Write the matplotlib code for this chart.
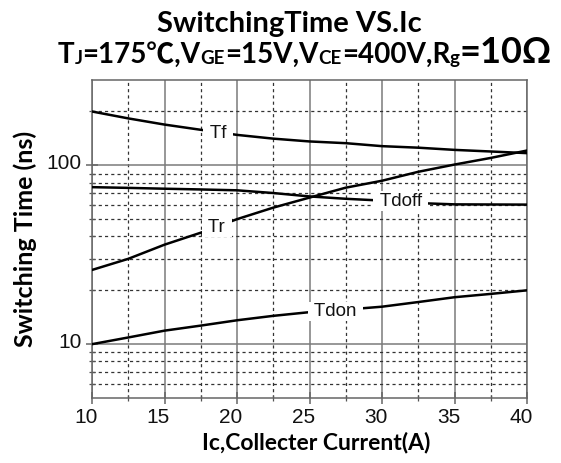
import matplotlib
matplotlib.use("Agg")
import matplotlib.pyplot as plt
from matplotlib.ticker import FixedLocator, NullFormatter
from matplotlib.text import Annotation
from matplotlib.transforms import ScaledTranslation

# ---- data ----
ic = [10, 12.5, 15, 17.5, 20, 22.5, 25, 27.5, 30, 32.5, 35, 37.5, 40]
tf = [200, 183, 169, 158, 148, 141, 136, 133, 128, 125.5, 122, 119.5, 117]
tr = [26, 30, 36, 42, 50, 58, 66, 75, 82, 92, 101, 110, 121]
tdoff = [75.5, 74.8, 74, 73.3, 72.5, 70, 67, 65, 63.5, 61.5, 60.5, 60.4, 60.3]
tdon = [10, 10.9, 11.9, 12.7, 13.6, 14.4, 15.1, 15.6, 16.2, 17.2, 18.3, 19.1, 20]

labels = ["Tf", "Tr", "Tdoff", "Tdon"]
label_pos = [(18.7, 151), (18.6, 45), (31.3, 63), (26.8, 15.2)]

xticks = [10, 15, 20, 25, 30, 35, 40]
xminor = [12.5, 17.5, 22.5, 27.5, 32.5, 37.5]
yticks = [10, 100]
yminor = [6, 7, 8, 9, 20, 30, 40, 50, 60, 70, 80, 90, 200]

TFONT = ["Lato", "Noto Sans CJK SC", "DejaVu Sans"]
AFONT = ["Liberation Sans", "DejaVu Sans"]

fig = plt.figure(figsize=(5.61, 4.63), dpi=100)
ax = fig.add_axes([92/561, 1-398/463, (527-92)/561, (398-80)/463])

for y in (tf, tr, tdoff, tdon):
    ax.plot(ic, y, color="black", lw=1.8, zorder=3)

for t, (x, y) in zip(labels, label_pos):
    ax.text(x, y, " " + t + " ", ha="center", va="center", fontsize=13.5,
            family=AFONT, color="#111111", zorder=4,
            bbox=dict(facecolor="white", edgecolor="none", pad=1.0))

ax.set_yscale("log")
ax.set_xlim(10, 40)
ax.set_ylim(5, 300)
ax.xaxis.set_major_locator(FixedLocator(xticks))
ax.xaxis.set_minor_locator(FixedLocator(xminor))
ax.yaxis.set_major_locator(FixedLocator(yticks))
ax.yaxis.set_minor_locator(FixedLocator(yminor))
ax.yaxis.set_minor_formatter(NullFormatter())
ax.set_xticklabels([str(v) for v in xticks])
ax.set_yticklabels([str(v) for v in yticks])

ax.grid(which="major", color="#7a7a7a", lw=1.1, ls="-", zorder=1)
ax.grid(which="minor", color="#333333", lw=0.9, ls=(0, (2.5, 2.5)), zorder=1)
for s in ax.spines.values():
    s.set_color("#666666")
    s.set_linewidth(1.1)

ax.tick_params(which="major", direction="inout", length=9, width=1.1, color="#666666",
               labelsize=15, pad=3)
ax.tick_params(which="minor", direction="inout", length=4, width=0.9, color="#555555")
for lab in ax.get_xticklabels() + ax.get_yticklabels():
    lab.set_family(AFONT)
    lab.set_color("#111111")

ax.set_xlabel("Ic,Collecter Current(A)", family=TFONT, fontweight="bold", fontsize=16.5)
ax.xaxis.set_label_coords(0.515, -0.105)
ax.set_ylabel("Switching Time (ns)", family=TFONT, fontweight="bold", fontsize=18, labelpad=7)

# shift tick labels like the reference
for tk in ax.xaxis.get_major_ticks():
    tk.label1.set_transform(tk.label1.get_transform() + ScaledTranslation(-6/100, 0, fig.dpi_scale_trans))
for tk in ax.yaxis.get_major_ticks():
    tk.label1.set_transform(tk.label1.get_transform() + ScaledTranslation(0, 4/100, fig.dpi_scale_trans))

# ---- title ----
fig.text(289/561, 1-32/463, "SwitchingTime VS.Ic", ha="center", va="baseline",
         family=TFONT, fontweight="bold", fontsize=21)

pieces = [("T", 20, 0), ("J", 13.5, -1), ("=175\u2103,V", 20, 0), ("GE", 13.5, -1),
          ("=15V,V", 20, 0), ("CE", 13.5, -1), ("=400V,R", 20, 0), ("g", 13.5, -1),
          ("=10\u03a9", 26, 0)]
base = 1 - 63/463
prev = fig.text(58/561, base, pieces[0][0], ha="left", va="baseline", family=TFONT,
                fontweight="bold", fontsize=pieces[0][1])
for txt, sz, dy in pieces[1:]:
    yy = base + dy/463
    prev = fig.add_artist(Annotation(
        txt, xy=(1, yy), xycoords=(prev, "figure fraction"), ha="left", va="baseline",
        family=TFONT, fontweight="bold", fontsize=sz))

fig.savefig("out.png", dpi=100)
